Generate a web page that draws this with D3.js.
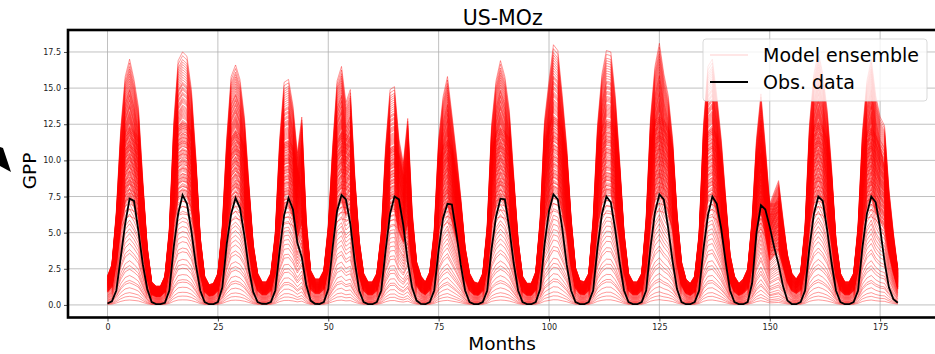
<!DOCTYPE html>
<html>
<head>
<meta charset="utf-8">
<script src="https://cdn.jsdelivr.net/npm/d3@7"></script>
<style>
  body { margin: 0; background: #fff; }
  text { font-family: "DejaVu Sans", sans-serif; }
</style>
</head>
<body>
<div id="chart"></div>
<script>
// monthly GPP, observed (black line)
const obs = [
  0.1, 0.25, 1.0, 3.3, 5.6, 7.35, 7.2, 5.1, 2.8, 1.1, 0.2, 0.06,
  0.05, 0.15, 1.0, 4.0, 6.3, 7.6, 7.0, 5.1, 2.8, 1.0, 0.2, 0.05,
  0.06, 0.2, 1.2, 4.2, 6.3, 7.4, 6.7, 4.8, 2.5, 0.9, 0.2, 0.08,
  0.07, 0.2, 1.0, 3.8, 6.2, 7.4, 6.6, 4.3, 3.3, 1.4, 0.3, 0.08,
  0.06, 0.2, 1.1, 4.0, 6.5, 7.6, 7.3, 5.6, 3.0, 1.0, 0.2, 0.06,
  0.05, 0.2, 1.0, 3.8, 6.3, 7.5, 7.3, 5.5, 3.0, 1.2, 0.3, 0.07,
  0.05, 0.2, 1.0, 3.8, 6.0, 7.0, 6.95, 5.0, 2.8, 1.0, 0.2, 0.06,
  0.06, 0.2, 1.0, 3.9, 6.1, 7.35, 7.3, 5.3, 2.9, 1.0, 0.2, 0.06,
  0.05, 0.2, 1.1, 4.2, 6.5, 7.65, 7.3, 5.3, 2.8, 1.0, 0.2, 0.06,
  0.05, 0.2, 1.0, 4.0, 6.3, 7.5, 7.1, 5.2, 2.9, 1.0, 0.2, 0.06,
  0.05, 0.2, 1.0, 4.0, 6.4, 7.65, 7.3, 5.3, 3.0, 1.1, 0.2, 0.05,
  0.05, 0.2, 1.0, 3.9, 6.2, 7.5, 7.0, 5.3, 3.0, 1.0, 0.2, 0.06,
  0.05, 0.2, 1.5, 5.0, 6.9, 6.6, 5.4, 4.0, 2.8, 1.3, 0.3, 0.06,
  0.05, 0.2, 1.0, 4.0, 6.3, 7.5, 7.2, 5.2, 2.9, 1.0, 0.2, 0.05,
  0.05, 0.2, 1.0, 4.0, 6.3, 7.5, 7.1, 5.3, 3.0, 1.2, 0.4, 0.15
];

// upper envelope of the model ensemble, read month by month
const ensMax = [
  2.0, 2.8, 6.5, 12.2, 15.8, 17.0, 15.6, 13.7, 8.6, 4.0, 1.6, 1.3,
  1.3, 2.0, 5.3, 12.6, 16.9, 17.5, 17.2, 14.9, 10.3, 4.7, 2.0, 1.4,
  1.5, 2.2, 5.5, 11.5, 15.8, 16.6, 15.6, 13.0, 8.5, 4.2, 2.2, 1.6,
  1.6, 2.2, 5.0, 11.5, 15.4, 15.6, 13.8, 10.5, 13.0, 6.0, 2.4, 1.8,
  1.8, 2.4, 5.5, 11.0, 15.5, 16.5, 14.0, 14.9, 9.0, 4.5, 2.2, 1.6,
  1.6, 2.2, 5.0, 11.0, 14.9, 15.1, 11.5, 9.8, 12.9, 6.5, 3.0, 2.0,
  1.6, 2.3, 5.2, 11.5, 14.4, 15.8, 13.2, 10.5, 7.5, 4.0, 2.2, 1.6,
  1.5, 2.2, 5.5, 12.5, 15.5, 16.9, 15.8, 13.5, 9.0, 4.5, 2.0, 1.5,
  1.5, 2.3, 6.0, 12.8, 15.5, 18.0, 17.6, 14.5, 11.0, 6.0, 2.6, 1.7,
  1.6, 2.2, 6.0, 12.5, 16.0, 17.6, 17.5, 14.5, 10.0, 5.0, 2.2, 1.6,
  1.6, 2.2, 6.0, 13.0, 16.5, 18.1, 16.0, 14.5, 11.5, 6.3, 3.0, 1.8,
  1.5, 2.0, 5.0, 12.5, 16.5, 17.0, 14.5, 11.5, 7.5, 3.5, 2.0, 1.5,
  1.8, 2.5, 6.0, 11.5, 14.6, 11.0, 7.0, 7.8, 8.6, 6.0, 3.5, 2.2,
  1.8, 2.3, 5.5, 12.5, 16.0, 17.5, 16.0, 13.5, 9.5, 4.5, 2.2, 1.6,
  1.6, 2.2, 5.5, 12.0, 15.5, 17.0, 14.5, 13.0, 12.4, 8.0, 5.0, 2.5
];

// outer edge of the dense (solid red) band: broad season, flat top
const ensBand = [
  2.0, 2.8, 6.2, 10.4, 12.0, 12.3, 12.0, 11.6, 8.2, 4.0, 1.6, 1.3,
  1.3, 2.0, 5.0, 10.7, 12.4, 12.6, 12.5, 12.0, 9.8, 4.7, 2.0, 1.4,
  1.5, 2.2, 5.2, 9.8, 11.6, 12.0, 11.8, 11.0, 8.1, 4.2, 2.2, 1.6,
  1.6, 2.2, 4.8, 9.8, 11.2, 11.3, 11.0, 9.5, 8.0, 5.5, 2.4, 1.8,
  1.8, 2.4, 5.2, 9.4, 11.5, 11.9, 11.8, 11.5, 8.6, 4.5, 2.2, 1.6,
  1.6, 2.2, 4.8, 9.4, 10.8, 11.0, 10.5, 9.0, 8.5, 6.0, 3.0, 2.0,
  1.6, 2.3, 4.9, 9.8, 11.0, 11.4, 11.0, 9.0, 7.1, 4.0, 2.2, 1.6,
  1.5, 2.2, 5.2, 10.6, 12.0, 12.2, 12.0, 11.5, 8.6, 4.5, 2.0, 1.5,
  1.5, 2.3, 5.7, 10.9, 12.6, 13.0, 12.8, 12.3, 10.4, 6.0, 2.6, 1.7,
  1.6, 2.2, 5.7, 10.6, 12.4, 12.7, 12.6, 12.3, 9.5, 5.0, 2.2, 1.6,
  1.6, 2.2, 5.7, 11.0, 12.8, 13.0, 12.8, 12.3, 10.9, 6.3, 3.0, 1.8,
  1.5, 2.0, 4.8, 10.6, 12.0, 12.2, 11.8, 9.8, 7.1, 3.5, 2.0, 1.5,
  1.8, 2.5, 5.7, 9.8, 10.5, 9.5, 7.0, 7.0, 7.2, 5.5, 3.5, 2.2,
  1.8, 2.3, 5.2, 10.6, 12.4, 12.6, 12.4, 11.5, 9.0, 4.5, 2.2, 1.6,
  1.6, 2.2, 5.2, 10.2, 12.0, 12.2, 11.8, 11.0, 9.5, 7.0, 4.5, 2.5
];

// relative level of each ensemble member against the envelope
const memberLevels = [
  0.02, 0.035, 0.05, 0.07, 0.09, 0.1, 0.12, 0.145, 0.16, 0.18, 0.21,
  0.225, 0.25, 0.27, 0.29, 0.31, 0.33, 0.345, 0.37, 0.39, 0.41, 0.43,
  0.44, 0.445, 0.45, 0.455, 0.46, 0.47, 0.475, 0.48, 0.49, 0.495,
  0.5, 0.505, 0.51, 0.515, 0.52, 0.53, 0.535, 0.54, 0.545, 0.55,
  0.56, 0.565, 0.57, 0.575, 0.58, 0.59, 0.595, 0.6, 0.605, 0.61,
  0.615, 0.62, 0.63, 0.635, 0.64, 0.645, 0.65, 0.655, 0.66, 0.665,
  0.67, 0.675, 0.68, 0.69, 0.695, 0.7, 0.705, 0.71, 0.715, 0.72,
  0.725, 0.73, 0.74, 0.745, 0.75, 0.755, 0.76, 0.765, 0.77, 0.775,
  0.78, 0.785, 0.79, 0.8, 0.805, 0.81, 0.815, 0.82, 0.83, 0.835,
  0.84, 0.85, 0.855, 0.86, 0.87, 0.875, 0.88, 0.89, 0.9, 0.91,
  0.92, 0.93, 0.94, 0.95, 0.96, 0.97, 0.985, 1.0
];
// members that follow the broad band instead of the envelope
const bandLevels = [
  0.5, 0.54, 0.57, 0.6, 0.63, 0.65, 0.68, 0.7, 0.72, 0.75, 0.77,
  0.79, 0.81, 0.83, 0.85, 0.87, 0.89, 0.9, 0.92, 0.94, 0.95, 0.97,
  0.98, 0.99, 1.0
];

const xTicks = [0, 25, 50, 75, 100, 125, 150, 175];
const yTicks = [0, 2.5, 5, 7.5, 10, 12.5, 15, 17.5];

const width = 935, height = 354;
const plot = {left: 68, right: 937.3, top: 30, bottom: 317.5};

const svg = d3.select('#chart').append('svg')
    .attr('width', width)
    .attr('height', height);

const x = d3.scaleLinear().domain([-8.95, 187.95]).range([plot.left, plot.right]);
const y = d3.scaleLinear().domain([-0.87, 19.02]).range([plot.bottom, plot.top]);

svg.append('defs').append('clipPath').attr('id', 'clip')
  .append('rect')
    .attr('x', plot.left).attr('y', plot.top)
    .attr('width', plot.right - plot.left).attr('height', plot.bottom - plot.top);

// grid
const grid = svg.append('g').attr('clip-path', 'url(#clip)');
grid.selectAll('.gx').data(xTicks).enter().append('line')
    .attr('x1', d => x(d)).attr('x2', d => x(d))
    .attr('y1', plot.top).attr('y2', plot.bottom)
    .attr('stroke', '#b0b0b0').attr('stroke-width', 0.8);
grid.selectAll('.gy').data(yTicks).enter().append('line')
    .attr('x1', plot.left).attr('x2', plot.right)
    .attr('y1', d => y(d)).attr('y2', d => y(d))
    .attr('stroke', '#b0b0b0').attr('stroke-width', 0.8);

const line = d3.line()
    .x((d, i) => x(i))
    .y(d => y(d));

// model ensemble
const members = memberLevels.map(w => ensMax.map(v => v * w))
    .concat(bandLevels.map(w => ensBand.map(v => v * w)));

const lines = svg.append('g').attr('clip-path', 'url(#clip)');
lines.selectAll('.member').data(members).enter().append('path')
    .attr('class', 'member')
    .attr('d', line)
    .attr('fill', 'none')
    .attr('stroke', '#ff0000')
    .attr('stroke-opacity', 0.4)
    .attr('stroke-width', 1);

// obs
lines.append('path')
    .datum(obs)
    .attr('d', line)
    .attr('fill', 'none')
    .attr('stroke', '#000')
    .attr('stroke-width', 1.8);

// axes
const xAxis = svg.append('g')
    .attr('transform', `translate(0,${plot.bottom})`)
    .call(d3.axisBottom(x).tickValues(xTicks).tickSize(4).tickPadding(3));
const yAxis = svg.append('g')
    .attr('transform', `translate(${plot.left},0)`)
    .call(d3.axisLeft(y).tickValues(yTicks).tickFormat(d3.format('.1f')).tickSize(4).tickPadding(3));
[xAxis, yAxis].forEach(a => {
    a.select('.domain').remove();
    a.selectAll('text').attr('font-size', 8).attr('fill', '#222')
      .attr('font-family', '"DejaVu Sans", sans-serif');
    a.selectAll('line').attr('stroke', '#222').attr('stroke-width', 0.8);
});

// frame
svg.append('rect')
    .attr('x', plot.left).attr('y', plot.top)
    .attr('width', plot.right - plot.left).attr('height', plot.bottom - plot.top)
    .attr('fill', 'none').attr('stroke', '#000').attr('stroke-width', 2.6);

// title & labels
svg.append('text')
    .attr('x', (plot.left + plot.right) / 2).attr('y', 25)
    .attr('text-anchor', 'middle').attr('font-size', 20.5)
    .text('US-MOz');
svg.append('text')
    .attr('x', 502).attr('y', 350)
    .attr('text-anchor', 'middle').attr('font-size', 18.5)
    .text('Months');
svg.append('text')
    .attr('transform', 'translate(36,171) rotate(-90)')
    .attr('text-anchor', 'middle').attr('font-size', 18.5)
    .text('GPP');

// stray arrow head at the left edge
svg.append('polygon')
    .attr('points', '0,147 3,148 11,172 0,166')
    .attr('fill', '#000');

// legend
const legend = svg.append('g').attr('transform', 'translate(703,39)');
legend.append('rect')
    .attr('width', 224).attr('height', 62).attr('rx', 3)
    .attr('fill', '#fff').attr('fill-opacity', 0.8)
    .attr('stroke', '#d0d0d0').attr('stroke-opacity', 0.8);
const legendItems = [
  {label: 'Model ensemble', color: '#ff0000', opacity: 0.2, width: 1.2, y: 16},
  {label: 'Obs. data', color: '#000', opacity: 1, width: 1.8, y: 43}
];
legendItems.forEach(it => {
    legend.append('line')
        .attr('x1', 7).attr('x2', 45).attr('y1', it.y).attr('y2', it.y)
        .attr('stroke', it.color).attr('stroke-opacity', it.opacity)
        .attr('stroke-width', it.width);
    legend.append('text')
        .attr('x', 60).attr('y', it.y).attr('dy', '0.35em')
        .attr('font-size', 19)
        .text(it.label);
});
</script>
</body>
</html>
